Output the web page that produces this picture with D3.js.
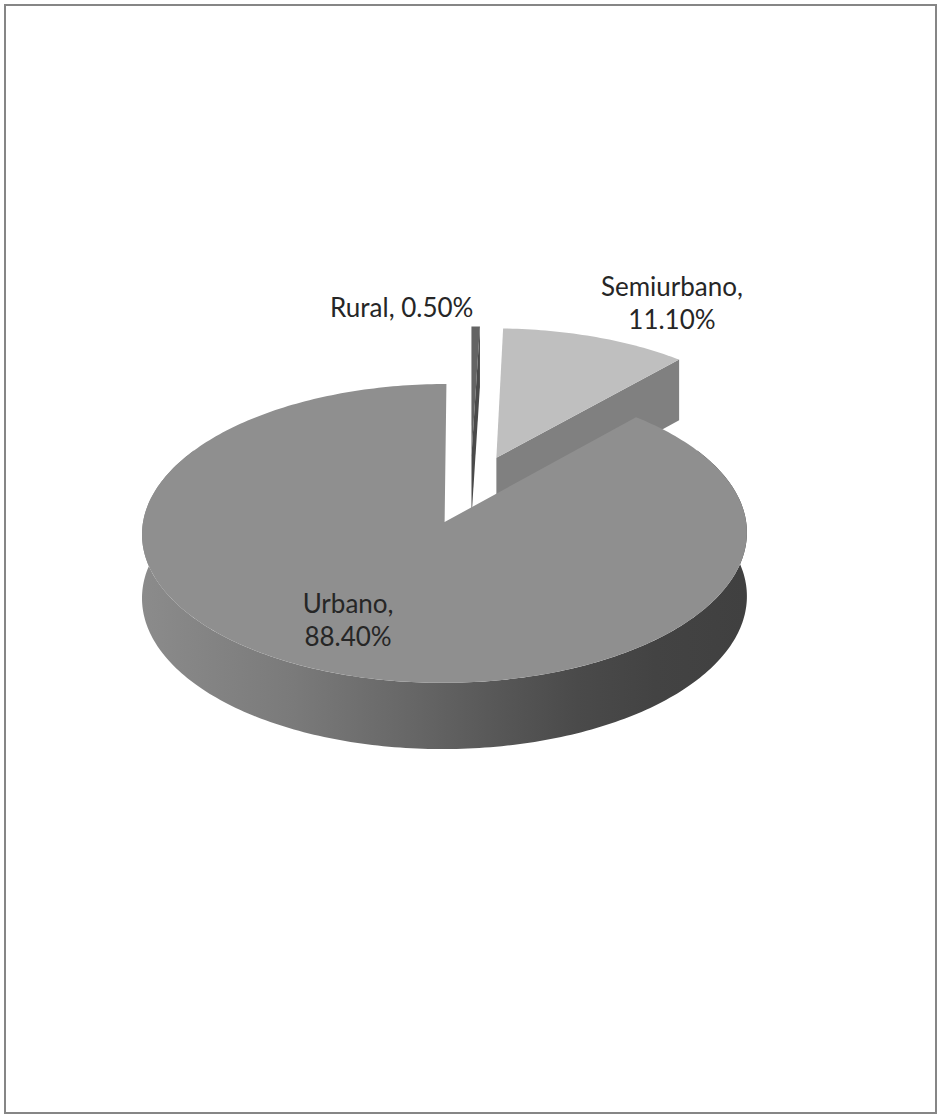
<!DOCTYPE html>
<html>
<head>
<meta charset="utf-8">
<script src="https://cdn.jsdelivr.net/npm/d3@7"></script>
<style>
  html, body { margin: 0; padding: 0; background: #fff; }
  svg { display: block; }
  text { font-family: Lato, "Open Sans", sans-serif; fill: #262626; }
</style>
</head>
<body>
<svg id="chart" width="938" height="1116"></svg>
<script>
// Shares of the three settlement types (percent)
const categories = ["Rural", "Semiurbano", "Urbano"];
const shares = [0.5, 11.1, 88.4];
const valueLabels = ["0.50%", "11.10%", "88.40%"];

// Slice fills: top face, radial walls
const topFill  = ["#646464", "#bfbfbf", "#8f8f8f"];
const wallFill = ["#4a4a4a", "#808080", "#6a6a6a"];

// Label placement: single/double line, anchor, radius along mid-angle, nudges
const labelLayout = [
  { lines: 1, anchor: "end",    at: "start", r: 1.0,  dx: 2,  dy: -9 },
  { lines: 2, anchor: "middle", at: "mid",   r: 1.0,  dx: 76, dy: -41 },
  { lines: 2, anchor: "middle", at: "mid",   r: 0.7,  dx: -16, dy: -11 }
];

const svg = d3.select("#chart");

// Chart frame
svg.append("rect")
  .attr("x", 5).attr("y", 5).attr("width", 931).attr("height", 1108)
  .attr("fill", "#fff").attr("stroke", "#868686").attr("stroke-width", 2);

// Perspective view of a unit-radius disc: X to the right, Z away from the viewer,
// Y = 0 on the top face and 1 on the bottom face.
const view = { cx: 470.4, cy: 489.3, kx: 296.5, kz: 143.6, persp: 0.075, depth: 63, depthPersp: 0.04 };
function project(X, Z, Y) {
  const d = 1 + view.persp * Z;
  return [view.cx + view.kx * X / d,
          view.cy - view.kz * Z / d + Y * view.depth / (1 + view.depthPersp * Z)];
}

const explode = 0.24;
const pie = d3.pie().sort(null).value(d => d).startAngle(0).endAngle(2 * Math.PI);
const arcs = pie(shares).map((a, i) => {
  const mid = (a.startAngle + a.endAngle) / 2;
  return Object.assign(a, {
    i, mid,
    ax: explode * Math.sin(mid),
    az: explode * Math.cos(mid)
  });
});

const line = d3.line();
const rim = (a, t, Y) => project(a.ax + Math.sin(t), a.az + Math.cos(t), Y);
function sweep(a, t0, t1) {
  const n = Math.max(2, Math.ceil((t1 - t0) / (Math.PI / 180)));
  return d3.range(n + 1).map(k => t0 + (t1 - t0) * k / n);
}

// Gradient for the curved outer wall
const defs = svg.append("defs");
const left = project(arcs[2].ax - 1, arcs[2].az, 0)[0];
const right = project(arcs[2].ax + 1, arcs[2].az, 0)[0];
const grad = defs.append("linearGradient").attr("id", "wallShade")
  .attr("gradientUnits", "userSpaceOnUse")
  .attr("x1", left).attr("x2", right).attr("y1", 0).attr("y2", 0);
[[0, "#8b8b8b"], [0.25, "#7a7a7a"], [0.45, "#666666"], [0.6, "#565656"],
 [0.72, "#4a4a4a"], [0.85, "#434343"], [1, "#404040"]]
  .forEach(([o, c]) => grad.append("stop").attr("offset", o).attr("stop-color", c));

const pieG = svg.append("g");
// Far slices first
const order = arcs.slice().sort((p, q) => q.az - p.az);

order.forEach(a => {
  const g = pieG.append("g").attr("class", "slice-" + categories[a.i]);
  const apexTop = project(a.ax, a.az, 0), apexBot = project(a.ax, a.az, 1);

  // curved outer wall (front part)
  const lo = Math.max(a.startAngle, Math.PI / 3), hi = Math.min(a.endAngle, 5 * Math.PI / 3);
  if (hi > lo) {
    const ts = sweep(a, lo, hi);
    const pts = ts.map(t => rim(a, t, 0)).concat(ts.slice().reverse().map(t => rim(a, t, 1)));
    g.append("path").attr("d", line(pts) + "Z").attr("fill", "url(#wallShade)");
  }
  // radial walls that face the viewer
  const radial = [];
  if (Math.sin(a.startAngle) < -1e-6) radial.push(a.startAngle);
  if (Math.sin(a.endAngle) > 1e-6) radial.push(a.endAngle);
  radial.forEach(t => {
    const pts = [apexTop, rim(a, t, 0), rim(a, t, 1), apexBot];
    g.append("path").attr("d", line(pts) + "Z").attr("fill", wallFill[a.i]);
  });
  // top face
  const topPts = [apexTop].concat(sweep(a, a.startAngle, a.endAngle).map(t => rim(a, t, 0)));
  g.append("path").attr("d", line(topPts) + "Z").attr("fill", topFill[a.i]);
});

// Data labels
const fontSize = 26;
const lineGap = 33;
arcs.forEach(a => {
  const L = labelLayout[a.i];
  const t = L.at === "start" ? a.startAngle : a.mid;
  const p = project(a.ax + L.r * Math.sin(t), a.az + L.r * Math.cos(t), 0);
  const x = p[0] + L.dx, y = p[1] + L.dy;
  const txt = svg.append("text")
    .attr("x", x).attr("y", y)
    .attr("text-anchor", L.anchor)
    .style("font-size", fontSize + "px");
  if (L.lines === 1) {
    txt.text(categories[a.i] + ", " + valueLabels[a.i]);
  } else {
    txt.append("tspan").attr("x", x).attr("y", y).text(categories[a.i] + ",");
    txt.append("tspan").attr("x", x).attr("y", y + lineGap).text(valueLabels[a.i]);
  }
});
</script>
</body>
</html>
